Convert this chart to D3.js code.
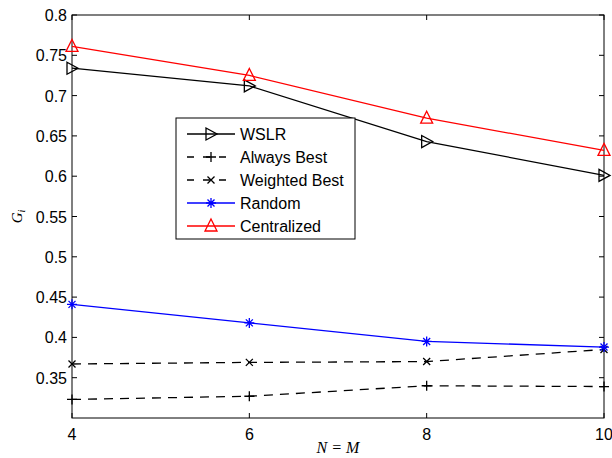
<!DOCTYPE html>
<html><head><meta charset="utf-8">
<script src="https://cdn.jsdelivr.net/npm/d3@7"></script>
<style>body{margin:0;background:#fff}svg{display:block}</style>
</head><body>
<script>
const xValues = [4, 6, 8, 10];
const wslr = [0.734, 0.712, 0.643, 0.601];
const alwaysBest = [0.323, 0.327, 0.340, 0.339];
const weightedBest = [0.367, 0.369, 0.370, 0.385];
const random = [0.441, 0.418, 0.395, 0.388];
const centralized = [0.761, 0.725, 0.672, 0.632];
const xTicks = [4, 6, 8, 10];
const yTicks = [0.35, 0.4, 0.45, 0.5, 0.55, 0.6, 0.65, 0.7, 0.75, 0.8];
const seriesNames = ["WSLR", "Always Best", "Weighted Best", "Random", "Centralized"];

const W = 612, H = 458;
const m = {left: 72, right: 8, top: 15, bottom: 40};
const svg = d3.select("body").append("svg").attr("width", W).attr("height", H);
const x = d3.scaleLinear().domain([4, 10]).range([m.left, W - m.right]);
const y = d3.scaleLinear().domain([0.3, 0.8]).range([H - m.bottom, m.top]);

const series = [
  {name: seriesNames[0], values: wslr, color: "#000", dash: null, marker: "tri-right"},
  {name: seriesNames[1], values: alwaysBest, color: "#000", dash: "9,7", marker: "plus"},
  {name: seriesNames[2], values: weightedBest, color: "#000", dash: "9,7", marker: "x"},
  {name: seriesNames[3], values: random, color: "#0000ff", dash: null, marker: "star"},
  {name: seriesNames[4], values: centralized, color: "#ff0000", dash: null, marker: "tri-up"}
];

const font = "'Liberation Sans', Arial, sans-serif";
const fs = 16;
const g = svg.append("g");

const x0 = x(4), x1 = x(10), y0 = y(0.3), y1 = y(0.8);
const tl = 5;
const ticks = g.append("g").attr("stroke", "#000").attr("stroke-width", 1);
xTicks.forEach(t => {
  ticks.append("line").attr("x1", x(t)).attr("x2", x(t)).attr("y1", y0).attr("y2", y0 - tl);
  ticks.append("line").attr("x1", x(t)).attr("x2", x(t)).attr("y1", y1).attr("y2", y1 + tl);
  g.append("text").attr("x", x(t)).attr("y", y0 + 22).attr("text-anchor", "middle")
    .attr("font-family", font).attr("font-size", fs).text(t);
});
yTicks.forEach(t => {
  ticks.append("line").attr("x1", x0).attr("x2", x0 + tl).attr("y1", y(t)).attr("y2", y(t));
  ticks.append("line").attr("x1", x1).attr("x2", x1 - tl).attr("y1", y(t)).attr("y2", y(t));
  g.append("text").attr("x", x0 - 5).attr("y", y(t) + 6).attr("text-anchor", "end")
    .attr("font-family", font).attr("font-size", fs).text(d3.format("")(t));
});
g.append("rect").attr("x", x0).attr("y", y1).attr("width", x1 - x0).attr("height", y0 - y1)
  .attr("fill", "none").attr("stroke", "#000").attr("stroke-width", 1);

function drawMarker(sel, type, cx, cy, color) {
  const s = sel.append("g").attr("transform", `translate(${cx},${cy})`)
    .attr("stroke", color).attr("fill", "none").attr("stroke-width", 1.3);
  if (type === "tri-right") s.append("path").attr("d", "M-5,-6L6,0L-5,6Z");
  else if (type === "tri-up") s.append("path").attr("d", "M0,-7L6,5L-6,5Z");
  else if (type === "plus") s.append("path").attr("d", "M-5,0H5M0,-5V5");
  else if (type === "x") s.append("path").attr("d", "M-3.5,-3.5L3.5,3.5M-3.5,3.5L3.5,-3.5");
  else if (type === "star") s.append("path").attr("d", "M-5,0H5M0,-5V5M-3.5,-3.5L3.5,3.5M-3.5,3.5L3.5,-3.5");
}

const line = d3.line().x((d, i) => x(xValues[i])).y(d => y(d));
series.forEach(s => {
  g.append("path").datum(s.values).attr("d", line).attr("fill", "none")
    .attr("stroke", s.color).attr("stroke-width", 1.3)
    .attr("stroke-dasharray", s.dash);
  s.values.forEach((v, i) => drawMarker(g, s.marker, x(xValues[i]), y(v), s.color));
});

// legend
const lg = g.append("g");
lg.append("rect").attr("x", 176).attr("y", 118).attr("width", 179).attr("height", 121)
  .attr("fill", "#fff").attr("stroke", "#000").attr("stroke-width", 1);
series.forEach((s, i) => {
  const ly = 134 + i * 23;
  lg.append("line").attr("x1", 187).attr("x2", 235).attr("y1", ly).attr("y2", ly)
    .attr("stroke", s.color).attr("stroke-width", 1.3).attr("stroke-dasharray", s.dash ? "7,9" : null);
  drawMarker(lg, s.marker, 211, ly, s.color);
  lg.append("text").attr("x", 240).attr("y", ly + 6).attr("font-family", font)
    .attr("font-size", fs).text(s.name);
});

// axis labels
g.append("text").attr("x", (x0 + x1) / 2).attr("y", 453).attr("text-anchor", "middle")
  .attr("font-family", "'Liberation Serif', serif").attr("font-style", "italic")
  .attr("font-size", 16).text("N = M");
const yl = g.append("text").attr("transform", `translate(22,${(y0 + y1) / 2}) rotate(-90)`)
  .attr("text-anchor", "middle").attr("font-family", "'Liberation Serif', serif")
  .attr("font-style", "italic").attr("font-size", 15);
yl.append("tspan").text("G");
yl.append("tspan").attr("font-size", 10).attr("dy", 3).text("i");
</script>
</body></html>
